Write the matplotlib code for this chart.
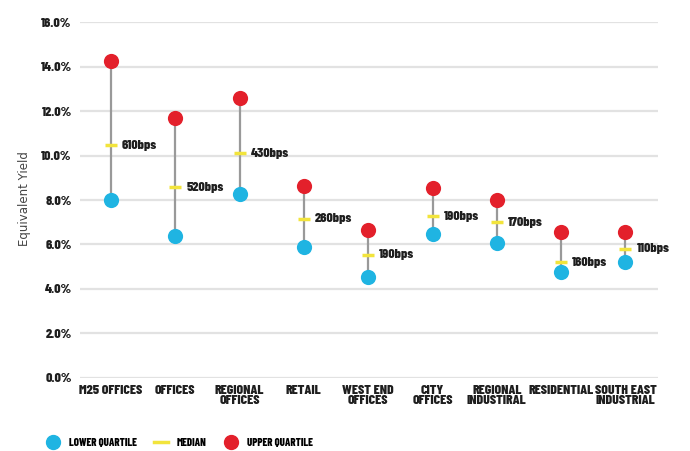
import numpy as np
import matplotlib
matplotlib.use('Agg')
import matplotlib.pyplot as plt
from matplotlib.lines import Line2D

# 数据
categories = ['M25 OFFICES', 'OFFICES', 'REGIONAL\nOFFICES', 'RETAIL', 'WEST END\nOFFICES',
              'CITY\nOFFICES', 'REGIONAL\nINDUSTIRAL', 'RESIDENTIAL', 'SOUTH EAST\nINDUSTRIAL']
lower_q = [8.0, 6.38, 8.27, 5.89, 4.54, 6.47, 6.07, 4.76, 5.21]
median = [10.47, 8.58, 10.11, 7.15, 5.53, 7.28, 7.01, 5.21, 5.80]
upper_q = [14.25, 11.69, 12.58, 8.63, 6.65, 8.54, 8.0, 6.56, 6.56]
spread_labels = ['610bps', '520bps', '430bps', '260bps', '190bps', '190bps', '170bps', '160bps', '110bps']

red = '#e3202b'
blue = '#1fb4e2'
yellow = '#f2e43c'
cond = ['Barlow Condensed', 'DejaVu Sans']
ink = '#1e1e1e'

fig = plt.figure(figsize=(6.9, 4.51), dpi=100)
ax = fig.add_axes([0.116, 0.162, 0.838, 0.789])

x = np.arange(len(categories))

# 网格线
for v in np.arange(0, 17, 2):
    ax.axhline(v, color='#e2e2e2', lw=1.6, zorder=0)

ax.vlines(x, lower_q, upper_q, color='#999999', lw=1.6, zorder=1)
ax.scatter(x, lower_q, s=120, color=blue, zorder=3, linewidths=0)
ax.scatter(x, upper_q, s=120, color=red, zorder=3, linewidths=0)
ax.scatter(x, median, s=80, marker='_', color=yellow, linewidths=2.5, zorder=2)

for xi, m, lab in zip(x, median, spread_labels):
    ax.text(xi + 0.17, m, lab, ha='left', va='center', fontsize=10, fontweight=800,
            family=cond, color=ink)

ax.set_xlim(-0.48, 8.51)
ax.set_ylim(0, 16)
ax.set_yticks(np.arange(0, 17, 2))
ax.set_yticklabels(['%.1f%%' % v for v in np.arange(0, 17, 2)], fontsize=10,
                   fontweight=800, family=cond, color=ink)
ax.set_xticks(x)
ax.set_xticklabels(categories, fontsize=10, fontweight=800, family=cond,
                   color=ink, linespacing=0.85, va='top')
ax.tick_params(length=0, pad=5)
ax.tick_params(axis='y', pad=6)
for s in ax.spines.values():
    s.set_visible(False)

fig.text(0.036, 0.56, 'Equivalent Yield', rotation=90, ha='center', va='center',
         fontsize=8.5, color='#444444')

# 图例
handles = [
    Line2D([], [], marker='o', ls='none', color=blue, markersize=10),
    Line2D([], [], color=yellow, lw=2.5),
    Line2D([], [], marker='o', ls='none', color=red, markersize=10),
]
fig.legend(handles, ['LOWER QUARTILE', 'MEDIAN', 'UPPER QUARTILE'], loc='center left',
           bbox_to_anchor=(0.067, 0.018), ncol=3, frameon=False, handlelength=1.3,
           columnspacing=1.6, handletextpad=0.8, borderpad=0, borderaxespad=0,
           prop={'family': cond, 'weight': 800, 'size': 7.8})

fig.savefig('out.png', dpi=100)
